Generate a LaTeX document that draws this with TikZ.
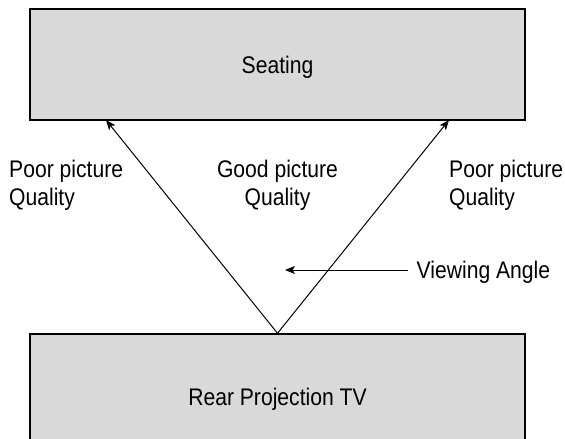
\documentclass[tikz,border=0pt]{standalone}
\usepackage{fontspec}
\setmainfont{Liberation Sans}[FakeStretch=0.88]
\usetikzlibrary{arrows.meta}
\definecolor{boxgray}{RGB}{217,217,217}
\begin{document}
\begin{tikzpicture}[x=1pt,y=-1pt,
  box/.style={draw=black, line width=1.5pt, fill=boxgray, inner sep=0pt, text depth=0pt, font=\fontsize{24}{28}\selectfont},
  lbl/.style={font=\fontsize{24}{28}\selectfont, inner sep=0pt},
  conn/.style={line width=1pt, -{Stealth[length=10pt,width=8pt,inset=2.5pt]}}]
\useasboundingbox (0,0) rectangle (565,439);
\clip (0,0) rectangle (565,439);
\node[box, minimum width=495pt, minimum height=111pt] (seat) at (277.5,64.5) {Seating};
\node[box, minimum width=495pt, minimum height=125pt] (tv) at (277.5,396.5) {Rear Projection TV};
\coordinate (lt) at (106,120);
\coordinate (rt) at (449,120);
\coordinate (vs) at (408,270);
\coordinate (vt) at (285,270);
\draw[conn] (tv.north) -- (lt);
\draw[conn] (tv.north) -- (rt);
\draw[conn] (vs) -- (vt);
\node[lbl, anchor=base west, align=left] (pl) at (9,205) {Poor picture\\Quality};
\node[lbl, anchor=base, align=center] (gq) at (277.5,205) {Good picture\\Quality};
\node[lbl, anchor=base west, align=left] (pr) at (449,205) {Poor picture\\Quality};
\node[lbl, anchor=base west] (va) at (416.5,278.4) {Viewing Angle};
\end{tikzpicture}
\end{document}
